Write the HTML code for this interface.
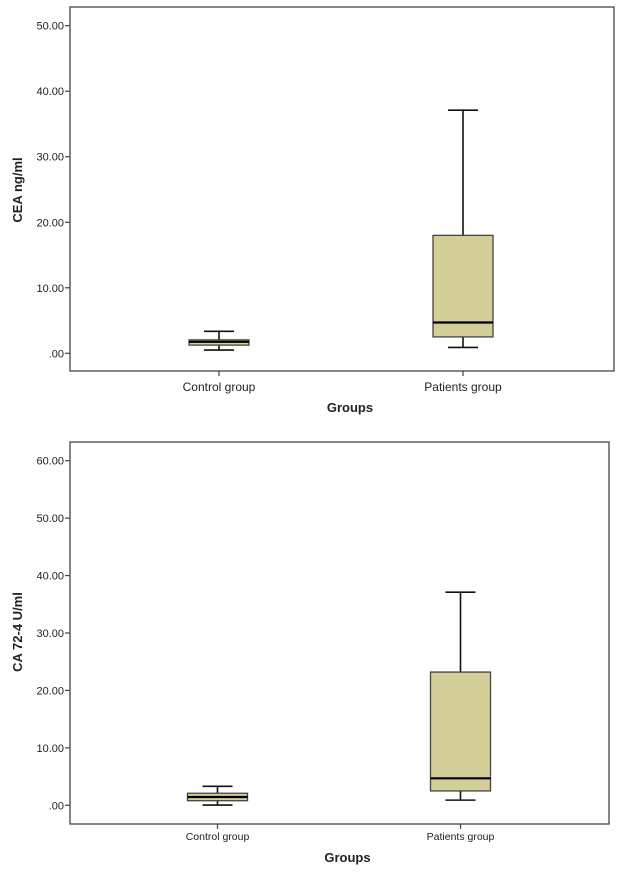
<!DOCTYPE html>
<html><head><meta charset="utf-8"><style>
html,body{margin:0;padding:0;background:#fff;}
svg{display:block;font-family:"Liberation Sans",Arial,sans-serif;}
</style></head><body>
<svg id="svg" width="626" height="875" viewBox="0 0 626 875"></svg>
<script>
const categories = ["Control group", "Patients group"];
const ceaMin = [0.5, 0.9];
const ceaQ1 = [1.25, 2.5];
const ceaMedian = [1.75, 4.7];
const ceaQ3 = [2.05, 18.0];
const ceaMax = [3.35, 37.1];
const ceaTicks = [0, 10, 20, 30, 40, 50];
const ceaTickLabels = [".00", "10.00", "20.00", "30.00", "40.00", "50.00"];
const caMin = [0.05, 0.9];
const caQ1 = [0.8, 2.5];
const caMedian = [1.45, 4.7];
const caQ3 = [2.1, 23.2];
const caMax = [3.3, 37.1];
const caTicks = [0, 10, 20, 30, 40, 50, 60];
const caTickLabels = [".00", "10.00", "20.00", "30.00", "40.00", "50.00", "60.00"];

const NS = "http://www.w3.org/2000/svg";
const svg = document.getElementById("svg");
function mk(tag, attrs, parent, text) {
  const e = document.createElementNS(NS, tag);
  for (const k in attrs) e.setAttribute(k, attrs[k]);
  if (text !== undefined) e.textContent = text;
  (parent || svg).appendChild(e);
  return e;
}
function chart(cfg) {
  const g = mk("g", {});
  
  
  const y = v => cfg.y0 + (cfg.yTop - cfg.y0) * v / cfg.vTop;
  const x = i => cfg.xc[i];
  const frame = mk("rect", {x: cfg.L, y: cfg.T, width: cfg.R - cfg.L, height: cfg.B - cfg.T, fill: "none", stroke: "#444", "stroke-width": 1.3}, g);
  
  
  cfg.ticks.forEach((t, i) => {
    const tk = mk("line", {x1: cfg.L - 5, x2: cfg.L, y1: y(t), y2: y(t), stroke: "#444", "stroke-width": 1.2}, g);
    
    
    const lb = mk("text", {x: cfg.L - 6, y: y(t) + 4, "text-anchor": "end", "font-size": 11, fill: "#222"}, g, cfg.tickLabels[i]);
    
    
  });
  categories.forEach((c, i) => {
    const tk = mk("line", {x1: x(i), x2: x(i), y1: cfg.B, y2: cfg.B + 5, stroke: "#444", "stroke-width": 1.2}, g);
    
    
    const lb = mk("text", {x: x(i), y: cfg.xLabelY, "text-anchor": "middle", "font-size": cfg.xFont, fill: "#222"}, g, c);
    
    
    const bg = mk("g", {}, g);
    
    
    const hw = 30, cw = 15, st = {stroke: "#111", "stroke-width": 1.6};
    mk("line", Object.assign({x1: x(i), x2: x(i), y1: y(cfg.max[i]), y2: y(cfg.q3[i])}, st), bg);
    mk("line", Object.assign({x1: x(i), x2: x(i), y1: y(cfg.q1[i]), y2: y(cfg.min[i])}, st), bg);
    mk("line", Object.assign({x1: x(i) - cw, x2: x(i) + cw, y1: y(cfg.max[i]), y2: y(cfg.max[i])}, st), bg);
    mk("line", Object.assign({x1: x(i) - cw, x2: x(i) + cw, y1: y(cfg.min[i]), y2: y(cfg.min[i])}, st), bg);
    mk("rect", {x: x(i) - hw, y: y(cfg.q3[i]), width: 2 * hw, height: y(cfg.q1[i]) - y(cfg.q3[i]), fill: "#d4cf98", stroke: "#444", "stroke-width": 1.3}, bg);
    mk("line", {x1: x(i) - hw, x2: x(i) + hw, y1: y(cfg.med[i]), y2: y(cfg.med[i]), stroke: "#000", "stroke-width": 2.2}, bg);
  });
  const xt = mk("text", {x: (cfg.L + cfg.R) / 2 + 8, y: cfg.xTitleY, "text-anchor": "middle", "font-size": 13, "font-weight": "bold", fill: "#222"}, g, "Groups");
  
  
  const yt = mk("text", {x: 0, y: 0, transform: `translate(22,${cfg.yTitleY}) rotate(-90)`, "text-anchor": "middle", "font-size": 13, "font-weight": "bold", fill: "#222"}, g, cfg.yTitle);
  
  
}
chart({name: "cea-chart", L: 70, R: 614, T: 7, B: 371, y0: 353.3, yTop: 25.7, vTop: 50,
  xc: [219, 463], ticks: ceaTicks, tickLabels: ceaTickLabels,
  min: ceaMin, q1: ceaQ1, med: ceaMedian, q3: ceaQ3, max: ceaMax,
  xLabelY: 391, xFont: 12, xTitleY: 412, yTitle: "CEA ng/ml", yTitleY: 190});
chart({name: "ca724-chart", L: 70, R: 609, T: 442, B: 824, y0: 805.3, yTop: 460.7, vTop: 60,
  xc: [217.5, 460.5], ticks: caTicks, tickLabels: caTickLabels,
  min: caMin, q1: caQ1, med: caMedian, q3: caQ3, max: caMax,
  xLabelY: 840, xFont: 10.5, xTitleY: 862, yTitle: "CA 72-4 U/ml", yTitleY: 632});
</script>
</body></html>
